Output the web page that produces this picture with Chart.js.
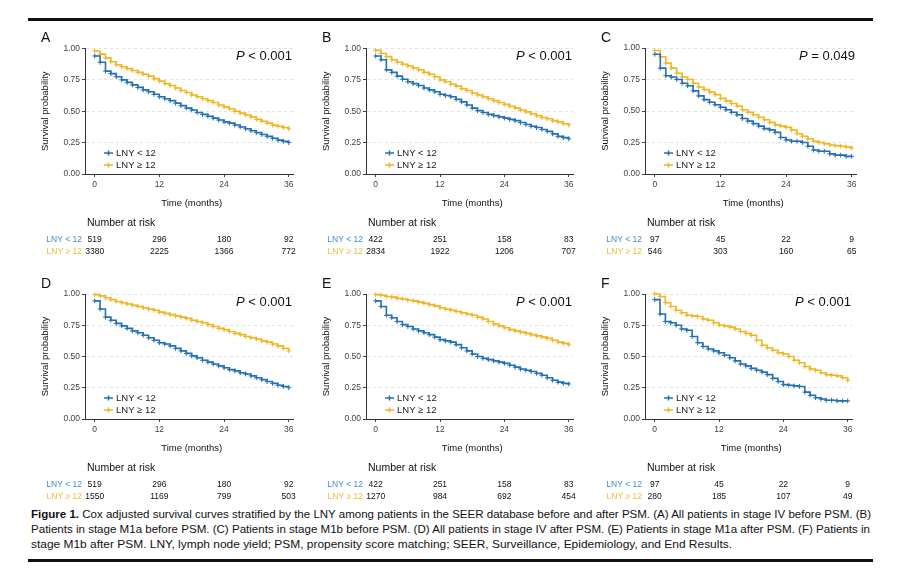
<!DOCTYPE html>
<html>
<head>
<meta charset="utf-8">
<script src="https://cdn.jsdelivr.net/npm/chart.js@4.4.0/dist/chart.umd.min.js"></script>
<style>
  body { margin:0; background:#fff; width:897px; height:582px; position:relative; overflow:hidden;
         font-family:"Liberation Sans", Arial, sans-serif; }
  canvas { position:absolute; }
  .rule { position:absolute; left:28px; width:845px; height:3px; background:#111; }
  #caption { position:absolute; left:31px; top:507px; font-size:11px; line-height:15px; color:#111; }
  #caption div { white-space:nowrap; transform-origin:0 0; }
</style>
</head>
<body>
<div class="rule" style="top:18px"></div>
<div class="rule" style="top:559px"></div>
<canvas id="pA"></canvas><canvas id="pB"></canvas><canvas id="pC"></canvas>
<canvas id="pD"></canvas><canvas id="pE"></canvas><canvas id="pF"></canvas>
<div id="caption">
  <div data-w="840"><b>Figure 1.</b> Cox adjusted survival curves stratified by the LNY among patients in the SEER database before and after PSM. (A) All patients in stage IV before PSM. (B)</div>
  <div data-w="839">Patients in stage M1a before PSM. (C) Patients in stage M1b before PSM. (D) All patients in stage IV after PSM. (E) Patients in stage M1a after PSM. (F) Patients in</div>
  <div data-w="701">stage M1b after PSM. LNY, lymph node yield; PSM, propensity score matching; SEER, Surveillance, Epidemiology, and End Results.</div>
</div>
<script>
// months 0..36, survival
const months = Array.from({length: 37}, (_, i) => i);
const xTicks = [0, 12, 24, 36];
const groups = ['LNY < 12', 'LNY \u2265 12'];
const letters = ['A', 'B', 'C', 'D', 'E', 'F'];
const pValues = ['< 0.001', '< 0.001', '= 0.049', '< 0.001', '< 0.001', '< 0.001'];

const survA_low = [0.94,0.89,0.82,0.80,0.775,0.75,0.73,0.71,0.69,0.67,0.655,0.635,0.615,0.60,0.585,0.565,0.545,0.525,0.51,0.49,0.475,0.46,0.445,0.43,0.415,0.405,0.39,0.375,0.36,0.345,0.33,0.315,0.30,0.285,0.27,0.26,0.25];
const survA_high = [0.98,0.955,0.925,0.895,0.87,0.855,0.84,0.825,0.81,0.795,0.78,0.76,0.74,0.72,0.705,0.685,0.665,0.65,0.63,0.615,0.60,0.585,0.57,0.55,0.535,0.52,0.50,0.485,0.47,0.455,0.435,0.42,0.405,0.39,0.38,0.37,0.36];
const survB_low = [0.94,0.91,0.83,0.81,0.78,0.755,0.735,0.72,0.705,0.685,0.67,0.655,0.635,0.625,0.615,0.595,0.575,0.55,0.525,0.505,0.49,0.475,0.465,0.455,0.445,0.435,0.425,0.41,0.395,0.38,0.37,0.355,0.34,0.32,0.30,0.29,0.28];
const survB_high = [0.985,0.96,0.935,0.91,0.89,0.875,0.86,0.845,0.83,0.81,0.795,0.775,0.75,0.735,0.715,0.70,0.68,0.665,0.645,0.63,0.615,0.60,0.585,0.57,0.555,0.54,0.525,0.51,0.495,0.48,0.465,0.45,0.44,0.425,0.415,0.40,0.39];
const survC_low = [0.95,0.84,0.78,0.77,0.75,0.72,0.70,0.66,0.62,0.59,0.57,0.55,0.53,0.51,0.49,0.47,0.44,0.42,0.40,0.38,0.36,0.35,0.33,0.29,0.27,0.26,0.26,0.25,0.22,0.19,0.18,0.18,0.16,0.15,0.15,0.14,0.14];
const survC_high = [0.98,0.93,0.88,0.84,0.80,0.77,0.75,0.72,0.69,0.67,0.65,0.63,0.60,0.58,0.56,0.54,0.51,0.49,0.47,0.45,0.43,0.41,0.39,0.38,0.37,0.35,0.32,0.30,0.28,0.26,0.25,0.24,0.23,0.225,0.22,0.215,0.205];
const survD_low = [0.945,0.88,0.815,0.79,0.765,0.745,0.725,0.705,0.69,0.67,0.65,0.63,0.61,0.60,0.585,0.565,0.545,0.525,0.505,0.49,0.47,0.455,0.44,0.425,0.41,0.395,0.385,0.37,0.36,0.345,0.33,0.315,0.30,0.285,0.27,0.26,0.25];
const survD_high = [0.995,0.985,0.97,0.955,0.94,0.93,0.92,0.91,0.90,0.89,0.88,0.87,0.855,0.845,0.835,0.825,0.815,0.805,0.79,0.78,0.77,0.755,0.74,0.725,0.715,0.70,0.685,0.675,0.66,0.65,0.64,0.625,0.615,0.60,0.585,0.565,0.545];
const survE_low = [0.945,0.90,0.83,0.81,0.78,0.755,0.74,0.72,0.705,0.69,0.675,0.655,0.635,0.625,0.615,0.595,0.57,0.545,0.52,0.50,0.485,0.475,0.465,0.455,0.445,0.43,0.415,0.40,0.39,0.38,0.365,0.35,0.33,0.31,0.295,0.285,0.28];
const survE_high = [0.995,0.99,0.98,0.975,0.965,0.96,0.95,0.945,0.935,0.925,0.915,0.905,0.89,0.88,0.87,0.86,0.85,0.84,0.83,0.815,0.80,0.78,0.76,0.745,0.73,0.715,0.705,0.695,0.685,0.675,0.665,0.655,0.645,0.63,0.615,0.605,0.595];
const survF_low = [0.955,0.84,0.78,0.77,0.75,0.72,0.71,0.66,0.61,0.58,0.56,0.545,0.53,0.51,0.49,0.465,0.44,0.425,0.405,0.39,0.375,0.355,0.325,0.30,0.275,0.27,0.265,0.26,0.215,0.19,0.17,0.16,0.15,0.15,0.145,0.145,0.145];
const survF_high = [1.0,0.98,0.93,0.90,0.87,0.85,0.83,0.825,0.82,0.80,0.79,0.77,0.75,0.745,0.735,0.72,0.70,0.685,0.67,0.63,0.59,0.57,0.55,0.53,0.52,0.50,0.47,0.45,0.42,0.40,0.39,0.37,0.355,0.35,0.345,0.33,0.31];

// number at risk at 0, 12, 24, 36 months
const riskA_low = [519, 296, 180, 92],  riskA_high = [3380, 2225, 1366, 772];
const riskB_low = [422, 251, 158, 83],  riskB_high = [2834, 1922, 1206, 707];
const riskC_low = [97, 45, 22, 9],      riskC_high = [546, 303, 160, 65];
const riskD_low = [519, 296, 180, 92],  riskD_high = [1550, 1169, 799, 503];
const riskE_low = [422, 251, 158, 83],  riskE_high = [1270, 984, 692, 454];
const riskF_low = [97, 45, 22, 9],      riskF_high = [280, 185, 107, 49];

const FONT = '"Liberation Sans", Arial, sans-serif';
const lineColors = ['#2271b5', '#efb724'];
const labelColors = ['#3f8fd2', '#e7c23e'];

Chart.defaults.font.family = FONT;
Chart.defaults.color = '#333';

const panelDecor = {
  id: 'panelDecor',
  afterDraw(chart, args, o) {
    const {ctx, chartArea: a, scales: {x}} = chart;
    ctx.save();
    ctx.fillStyle = '#111';
    ctx.textBaseline = 'middle';

    ctx.font = '14px ' + FONT;
    ctx.textAlign = 'left';
    ctx.fillText(o.letter, a.left - 44, a.top - 10);

    // P value, italic P
    ctx.font = '13px ' + FONT;
    ctx.textAlign = 'right';
    const rest = ' ' + o.p;
    ctx.fillText(rest, a.right - 1, a.top + 8);
    const rw = ctx.measureText(rest).width;
    ctx.font = 'italic 13px ' + FONT;
    ctx.fillText('P', a.right - 1 - rw, a.top + 8);

    // legend inside plot
    ctx.font = '9.5px ' + FONT;
    ctx.textAlign = 'left';
    groups.forEach((g, i) => {
      const y = a.bottom - 21 + i * 12;
      const x0 = a.left + 19, x1 = a.left + 28, xm = (x0 + x1) / 2;
      ctx.strokeStyle = lineColors[i];
      ctx.lineWidth = 1.5;
      ctx.beginPath();
      ctx.moveTo(x0, y); ctx.lineTo(x1, y);
      ctx.moveTo(xm, y - 2.5); ctx.lineTo(xm, y + 2.5);
      ctx.stroke();
      ctx.fillStyle = '#222';
      ctx.fillText(g, x1 + 3, y + 0.5);
    });

    // axis titles
    ctx.fillStyle = '#111';
    ctx.font = '9.5px ' + FONT;
    ctx.textAlign = 'center';
    const xc = (x.getPixelForValue(xTicks[0]) + x.getPixelForValue(xTicks[xTicks.length - 1])) / 2;
    ctx.fillText('Time (months)', xc, a.bottom + 29);
    ctx.save();
    ctx.translate(a.left - 40, (a.top + a.bottom) / 2);
    ctx.rotate(-Math.PI / 2);
    ctx.fillText('Survival probability', 0, 0);
    ctx.restore();

    // number at risk table, columns follow the x scale
    ctx.font = '10.5px ' + FONT;
    ctx.textAlign = 'left';
    ctx.fillText('Number at risk', a.left + 2, a.bottom + 49);
    ctx.font = '8.5px ' + FONT;
    o.risk.forEach((row, i) => {
      const y = a.bottom + 66 + i * 11.5;
      ctx.textAlign = 'right';
      ctx.fillStyle = labelColors[i];
      ctx.fillText(groups[i], a.left - 3, y);
      ctx.textAlign = 'center';
      ctx.fillStyle = '#111';
      row.forEach((n, j) => ctx.fillText(String(n), x.getPixelForValue(xTicks[j]), y));
    });
    ctx.restore();
  }
};

function fixBox(w, h) {
  return s => {
    if (w != null) s.width = w;
    if (h != null) s.height = h;
    s.paddingTop = s.paddingBottom = s.paddingLeft = s.paddingRight = 0;
  };
}

function makePanel(id, box, low, high, riskLow, riskHigh, idx) {
  // box: canvas left/top and plot edges in page pixels
  const W = box.right - box.cx + 6, H = 238;
  const el = document.getElementById(id);
  el.width = W; el.height = H;
  el.style.left = box.cx + 'px'; el.style.top = box.cy + 'px';
  const plotBottom = box.bottom - box.cy;

  const series = [low, high].map((s, i) => ({
    label: groups[i],
    data: months.map((m, k) => ({x: m, y: s[k]})),
    borderColor: lineColors[i],
    backgroundColor: lineColors[i],
    borderWidth: 1.6,
    stepped: 'before',
    pointStyle: 'cross',
    pointRadius: 2.4,
    pointBorderWidth: 1,
    clip: false
  }));

  return new Chart(el, {
    type: 'line',
    data: {datasets: series},
    options: {
      responsive: false,
      animation: false,
      events: [],
      layout: {padding: {left: 0, top: box.top - box.cy, right: W - (box.right - box.cx), bottom: 0}},
      plugins: {
        legend: {display: false},
        tooltip: {enabled: false},
        panelDecor: {letter: letters[idx], p: pValues[idx], risk: [riskLow, riskHigh]}
      },
      scales: {
        x: {
          type: 'linear', min: -1.8, max: 36.8,
          afterFit: fixBox(null, H - plotBottom),
          afterBuildTicks: s => { s.ticks = xTicks.map(v => ({value: v})); },
          ticks: {font: {size: 8.5}, color: '#444', padding: 3, maxRotation: 0},
          grid: {drawOnChartArea: false, tickLength: 3, tickColor: '#444'},
          border: {color: '#333', width: 1}
        },
        y: {
          min: 0, max: 1,
          afterFit: fixBox(box.left - box.cx, null),
          ticks: {stepSize: 0.25, font: {size: 8.5}, color: '#444', padding: 2,
                  callback: v => v.toFixed(2)},
          grid: {color: c => c.tick && c.tick.value === 0 ? 'rgba(0,0,0,0)' : '#e2e2e2',
                 tickLength: 3, tickColor: '#444', lineWidth: 1},
          border: {color: '#333', width: 1, dash: [3, 3]}
        }
      }
    },
    plugins: [panelDecor]
  });
}

makePanel('pA', {cx: 28, cy: 25, left: 85, top: 48.5, right: 293, bottom: 174}, survA_low, survA_high, riskA_low, riskA_high, 0);
makePanel('pB', {cx: 308, cy: 25, left: 366, top: 48.5, right: 573, bottom: 174}, survB_low, survB_high, riskB_low, riskB_high, 1);
makePanel('pC', {cx: 588, cy: 25, left: 645, top: 48, right: 856, bottom: 174}, survC_low, survC_high, riskC_low, riskC_high, 2);
makePanel('pD', {cx: 28, cy: 268, left: 85, top: 294, right: 293, bottom: 419}, survD_low, survD_high, riskD_low, riskD_high, 3);
makePanel('pE', {cx: 308, cy: 268, left: 366, top: 294, right: 573, bottom: 419}, survE_low, survE_high, riskE_low, riskE_high, 4);
makePanel('pF', {cx: 588, cy: 268, left: 645, top: 294, right: 852, bottom: 419}, survF_low, survF_high, riskF_low, riskF_high, 5);

// squeeze caption lines to the widths they have in the figure
document.querySelectorAll('#caption div').forEach(d => {
  d.style.display = 'inline-block';
  const w = d.getBoundingClientRect().width;
  d.style.transform = 'scaleX(' + (+d.dataset.w / w) + ')';
  d.style.display = 'block';
});
</script>
</body>
</html>
